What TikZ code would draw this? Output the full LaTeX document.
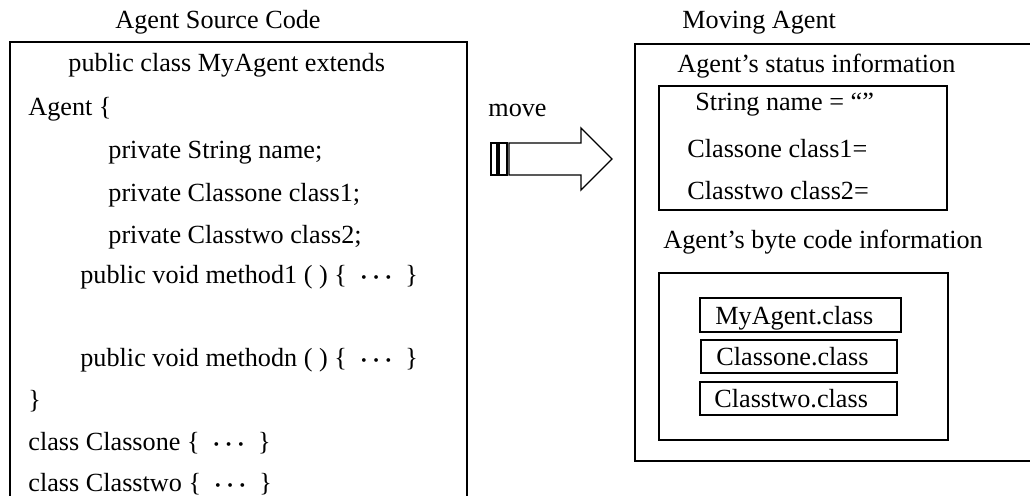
\documentclass[tikz,border=0pt]{standalone}
\usepackage{fontspec}
\setmainfont{Liberation Serif}
\newcommand{\dotsep}{\ \ {\boldmath$\cdots$}\ \ }
\begin{document}
\begin{tikzpicture}[x=0.5pt,y=-0.5pt,
  txt/.style={anchor=mid west,inner sep=0pt,yshift=-2pt,font=\fontsize{13.1pt}{15pt}\selectfont},
  frame/.style={draw=black,line width=1pt},
  clsbox/.style={draw=black,line width=1.3pt},
  movearrow/.style={draw=black,line width=0.7pt}]
\useasboundingbox (0,0) rectangle (1030,496);
\clip (0,0) rectangle (1030,496);

% captions
\node[txt] (srccap) at (115,20) {Agent Source Code};
\node[txt] (movcap) at (682,20) {Moving Agent};

% source code panel (open at the bottom)
\draw[frame] (10,510) -- (10,42) -- (467,42) -- (467,510);
\node[txt] (l1)  at (68,63)  {public class MyAgent extends};
\node[txt] (l2)  at (28,107) {Agent \{};
\node[txt] (l3)  at (108,150) {private String name;};
\node[txt] (l4)  at (108,193) {private Classone class1;};
\node[txt] (l5)  at (108,235) {private Classtwo class2;};
\node[txt] (l6)  at (80,275) {public void method1 ( ) \{\dotsep\}};
\node[txt] (l7)  at (80,358) {public void methodn ( ) \{\dotsep\}};
\node[txt] (l8)  at (28,400) {\}};
\node[txt] (l9)  at (28,442) {class Classone \{\dotsep\}};
\node[txt] (l10) at (28,483) {class Classtwo \{\dotsep\}};

% move arrow
\node[txt] (movelbl) at (488,108) {move};
\draw[movearrow] (491,143) rectangle (497,175);
\draw[movearrow] (499,143) rectangle (507,175);
\draw[movearrow] (509,143) -- (581,143) -- (581,128) -- (612,159)
  -- (581,190) -- (581,175) -- (509,175) -- cycle;

% moving agent panel (open at the right)
\draw[frame] (1040,44) -- (635,44) -- (635,461) -- (1040,461);

% status information
\node[txt] (stcap) at (677,64) {Agent’s status information};
\draw[frame] (659,86) rectangle (947,210);
\node[txt] (s1) at (695,102) {String name = “”};
\node[txt] (s2) at (687,149) {Classone class1=};
\node[txt] (s3) at (687,191) {Classtwo class2=};

% byte code information
\node[txt] (bccap) at (663,240) {Agent’s byte code information};
\draw[frame] (659,273) rectangle (948,440);
\draw[clsbox] (700,298) rectangle (901,332);
\node[txt] (c1) at (715,316) {MyAgent.class};
\draw[clsbox] (701,340) rectangle (897,373);
\node[txt] (c2) at (716,357) {Classone.class};
\draw[clsbox] (700,382) rectangle (897,415);
\node[txt] (c3) at (714,399) {Classtwo.class};
\end{tikzpicture}
\end{document}
